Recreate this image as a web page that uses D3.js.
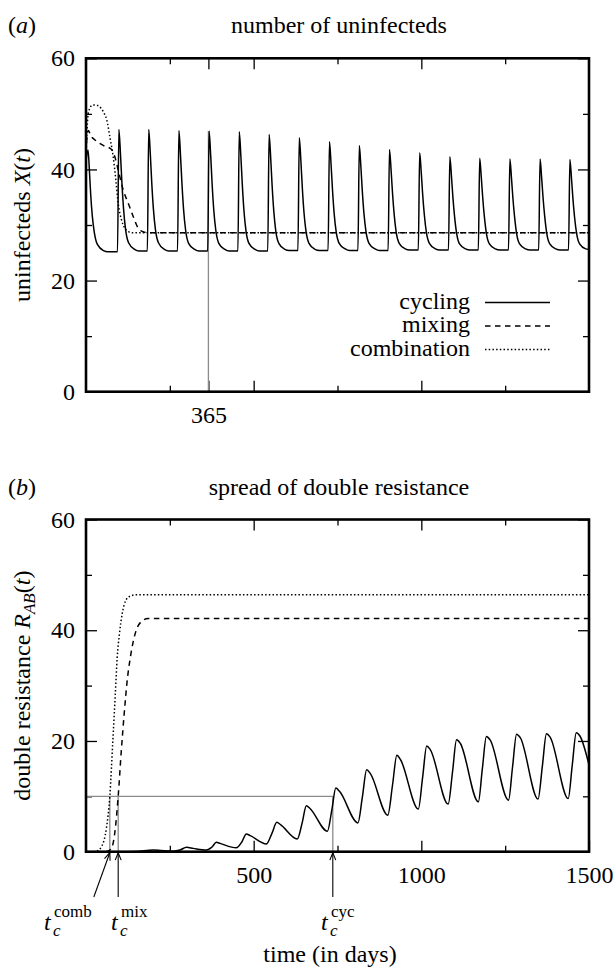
<!DOCTYPE html>
<html>
<head>
<meta charset="utf-8">
<script src="https://cdn.jsdelivr.net/npm/d3@7"></script>
<style>
  body { margin: 0; background: #fff; }
  svg { display: block; font-family: "Liberation Serif", "Times New Roman", serif; }
  .tick text { font-size: 24px; fill: #000; font-family: "Liberation Serif", serif; }
  .tick line { stroke: #000; stroke-width: 1.3; }
  .lbl { font-size: 24px; fill: #000; }
</style>
</head>
<body>
<svg id="chart" width="616" height="968"></svg>
<script>
// ---- panel (a): number of uninfecteds X(t), points are [day, value]
const cyclingX = [
  [0,41.5],[6,43.5],[10,40],[14,35.5],[19,31.5],[25,28.6],[34,26.5],[52,25.4],[65,25.2],
  [94,25.2],[98,47.2],[103,42.5],[107,37.7],[112,32.9],[118,29.2],[127,26.8],[145,25.6],[158,25.3],
  [183,25.3],[187,47.2],[192,42.5],[196,37.7],[201,32.9],[207,29.2],[216,26.8],[234,25.6],[247,25.3],
  [273,25.3],[277,47.0],[282,42.3],[286,37.6],[291,32.8],[297,29.1],[306,26.7],[324,25.6],[337,25.3],
  [363,25.3],[367,46.9],[372,42.3],[376,37.5],[381,32.7],[387,29.1],[396,26.7],[414,25.6],[427,25.3],
  [453,25.3],[457,46.8],[462,42.2],[466,37.4],[471,32.6],[477,29.0],[486,26.7],[504,25.6],[517,25.3],
  [542,25.3],[546,46.3],[551,41.8],[555,37.1],[560,32.5],[566,28.9],[575,26.7],[593,25.6],[606,25.4],
  [632,25.4],[636,45.7],[641,41.3],[645,36.8],[650,32.3],[656,28.9],[665,26.7],[683,25.6],[696,25.4],
  [722,25.4],[726,45.0],[731,40.7],[735,36.4],[740,32.1],[746,28.8],[755,26.7],[773,25.7],[786,25.4],
  [811,25.4],[815,44.3],[820,40.2],[824,36.1],[829,32.0],[835,28.8],[844,26.7],[862,25.7],[875,25.4],
  [901,25.4],[905,43.6],[910,39.7],[914,35.8],[919,31.9],[925,28.7],[934,26.7],[952,25.7],[965,25.5],
  [991,25.5],[995,43.0],[1000,39.2],[1004,35.5],[1009,31.8],[1015,28.7],[1024,26.7],[1042,25.7],[1055,25.5],
  [1081,25.5],[1085,42.3],[1090,38.6],[1094,35.1],[1099,31.6],[1105,28.6],[1114,26.6],[1132,25.7],[1145,25.5],
  [1170,25.5],[1174,42.0],[1179,38.4],[1183,35.0],[1188,31.5],[1194,28.5],[1203,26.6],[1221,25.7],[1234,25.5],
  [1260,25.5],[1264,41.9],[1269,38.3],[1273,34.9],[1278,31.5],[1284,28.5],[1293,26.6],[1311,25.7],[1324,25.5],
  [1350,25.5],[1354,41.9],[1359,38.3],[1363,34.9],[1368,31.5],[1374,28.5],[1383,26.6],[1401,25.7],[1414,25.5],
  [1439,25.5],[1443,41.8],[1448,38.2],[1452,34.8],[1457,31.4],[1463,28.5],[1472,26.6],[1490,25.7],[1500,25.6]
];
const mixingX = [
  [0,43],[3,46],[7,47],[15,46],[27,45.3],[52,44.3],[76,43.6],[86,42.3],[96,39.9],[111,36.3],
  [126,33.9],[141,31.5],[156,29.4],[170,28.8],[190,28.6],[1500,28.6]
];
const combinationX = [
  [0,42],[3,47],[8,50.5],[20,51.6],[35,51.5],[45,51.0],[55,50],[62,48.9],[71,45.9],[81,42.3],
  [89,38.1],[96,33.9],[106,30.9],[116,29.4],[126,28.8],[140,28.6],[1500,28.6]
];

// ---- panel (b): spread of double resistance R_AB(t)
const cyclingR = [
  [0,0],[100,0],[150,0.05],[200,0.3],[225,0.2],[260,0.1],[280,0.3],[300,0.8],[320,0.6],[360,0.3],
  [375,0.8],[389,1.7],[400,1.5],[448,0.7],[465,1.8],[478,3.2],[490,2.9],[538,1.4],[555,3.4],[569,5.3],
  [580,4.9],[630,2.3],[645,5.3],[657,8.3],[668,7.8],[720,3.7],[733,7.5],[745,11.5],[756,10.9],[811,5.2],
  [824,9.8],[837,14.8],[848,14.1],[900,6.6],[914,12],[927,17.4],[938,16.6],[991,7.7],[1004,13.5],[1016,19.1],
  [1027,18.4],[1080,8.6],[1093,14.4],[1105,20.2],[1116,19.6],[1170,9.0],[1182,15],[1194,20.8],[1205,20.2],
  [1260,9.3],[1272,15.3],[1284,21.2],[1295,20.6],[1348,9.5],[1361,15.5],[1373,21.3],[1384,20.7],[1438,9.6],
  [1450,15.6],[1462,21.5],[1473,20.9],[1500,15.7]
];
const mixingR = [
  [0,0],[60,0],[75,0.5],[85,3],[96,10],[105,18],[114,25],[123,31],[132,35],[141,38],[151,40.2],
  [166,41.6],[185,42.1],[1500,42.1]
];
const combinationR = [
  [0,0],[20,0],[32,0.1],[47,1],[61,4.3],[71,10],[80,20],[87,28],[93,35],[100,39.5],[108,43],
  [118,45.3],[130,46.1],[150,46.4],[1500,46.4]
];

// ticks and marks
const yMajorTicks = [0, 20, 40, 60];
const yMinorTicks = [10, 30, 50];
const xMinorTicks = [250, 750, 1250];
const xMajorTicksTop = [365, 500, 1000];
const xLabelsTop = [365];
const xMajorTicksBottom = [500, 1000];
const xLabelsBottom = [500, 1000, 1500];
const legendLabels = ["cycling", "mixing", "combination"];
const yearDay = 365;
const threshold = 10;
const tCritComb = 71, tCritMix = 96, tCritCyc = 736;

const svg = d3.select("#chart");
const left = 86, right = 589;
const x = d3.scaleLinear().domain([0, 1500]).range([left, right]);
const yTop = d3.scaleLinear().domain([0, 60]).range([391.7, 58.3]);
const yBot = d3.scaleLinear().domain([0, 60]).range([851.7, 519.5]);

const dash = { cycling: null, mixing: "5.5,4.5", combination: "1.5,2.2" };

function drawFrame(y, id, xMajor, xLabels) {
  const g = svg.append("g");
  const y0 = y.range()[0], y1 = y.range()[1];
  const fmtX = d => (xLabels.includes(d) ? d : "");
  // bottom / top x ticks
  g.append("g").attr("transform", `translate(0,${y0})`)
    .call(d3.axisBottom(x).tickValues(xMajor.concat(xLabels.filter(v => !xMajor.includes(v))))
      .tickSize(-11).tickPadding(14).tickFormat(fmtX));
  g.append("g").attr("transform", `translate(0,${y0})`)
    .call(d3.axisBottom(x).tickValues(xMinorTicks).tickSize(-6).tickFormat(""));
  g.append("g").attr("transform", `translate(0,${y1})`)
    .call(d3.axisTop(x).tickValues(xMajor).tickSize(-11).tickFormat(""));
  g.append("g").attr("transform", `translate(0,${y1})`)
    .call(d3.axisTop(x).tickValues(xMinorTicks).tickSize(-6).tickFormat(""));
  // y ticks
  g.append("g").attr("transform", `translate(${left},0)`)
    .call(d3.axisLeft(y).tickValues(yMajorTicks).tickSize(-11).tickPadding(11));
  g.append("g").attr("transform", `translate(${left},0)`)
    .call(d3.axisLeft(y).tickValues(yMinorTicks).tickSize(-6).tickFormat(""));
  g.append("g").attr("transform", `translate(${right},0)`)
    .call(d3.axisRight(y).tickValues(yMajorTicks).tickSize(-11).tickFormat(""));
  g.append("g").attr("transform", `translate(${right},0)`)
    .call(d3.axisRight(y).tickValues(yMinorTicks).tickSize(-6).tickFormat(""));
  g.selectAll(".domain").remove();
  // keep the edge ticks (0 / 1500) hidden under the frame
  g.selectAll(".tick line").filter(function() { return false; });

  svg.append("clipPath").attr("id", id).append("rect")
    .attr("x", left).attr("y", y1).attr("width", right - left).attr("height", y0 - y1);
  return g;
}

function drawLines(y, id, series) {
  const line = d3.line().x(d => x(d[0])).y(d => y(d[1])).curve(d3.curveMonotoneX);
  const g = svg.append("g").attr("clip-path", `url(#${id})`);
  series.forEach(s => {
    g.append("path").datum(s.data)
      .attr("d", line)
      .attr("fill", "none")
      .attr("stroke", "#000")
      .attr("stroke-width", 1.5)
      .attr("stroke-dasharray", dash[s.name]);
  });
}

function outline(y) {
  svg.append("rect")
    .attr("x", left).attr("y", y.range()[1])
    .attr("width", right - left).attr("height", y.range()[0] - y.range()[1])
    .attr("fill", "none").attr("stroke", "#000").attr("stroke-width", 2.6);
}

// ---------- panel (a)
const axA = drawFrame(yTop, "clipA", xMajorTicksTop, xLabelsTop);
svg.append("line")
  .attr("x1", x(yearDay)).attr("x2", x(yearDay))
  .attr("y1", yTop(0)).attr("y2", yTop(46.9))
  .attr("stroke", "#8a8a8a").attr("stroke-width", 1.3);
drawLines(yTop, "clipA", [
  { name: "mixing", data: mixingX },
  { name: "combination", data: combinationX },
  { name: "cycling", data: cyclingX }
]);
outline(yTop);

// legend
const leg = svg.append("g");
legendLabels.forEach((name, i) => {
  const ly = 302.5 + i * 23.5;
  leg.append("text").attr("class", "lbl").attr("x", 470).attr("y", ly + 6)
    .attr("text-anchor", "end").text(name);
  leg.append("line").attr("x1", 485).attr("x2", 550).attr("y1", ly).attr("y2", ly)
    .attr("stroke", "#000").attr("stroke-width", 1.5).attr("stroke-dasharray", dash[name]);
});

// titles
function panelTag(letter, yb) {
  const t = svg.append("text").attr("class", "lbl").attr("x", 8).attr("y", yb);
  t.append("tspan").text("(");
  t.append("tspan").attr("font-style", "italic").text(letter);
  t.append("tspan").text(")");
}
panelTag("a", 33);
svg.append("text").attr("class", "lbl").attr("x", 339).attr("y", 33)
  .attr("text-anchor", "middle").text("number of uninfecteds");

const yl1 = svg.append("text").attr("class", "lbl")
  .attr("transform", `translate(30,${(yTop.range()[0] + yTop.range()[1]) / 2}) rotate(-90)`)
  .attr("text-anchor", "middle");
yl1.append("tspan").text("uninfecteds ");
yl1.append("tspan").attr("font-style", "italic").text("X");
yl1.append("tspan").text("(");
yl1.append("tspan").attr("font-style", "italic").text("t");
yl1.append("tspan").text(")");

// ---------- panel (b)
drawFrame(yBot, "clipB", xMajorTicksBottom, xLabelsBottom);
const gray = svg.append("g").attr("stroke", "#8a8a8a").attr("stroke-width", 1.3);
gray.append("line").attr("x1", x(0)).attr("x2", x(tCritCyc))
  .attr("y1", yBot(threshold)).attr("y2", yBot(threshold));
[tCritComb, tCritMix, tCritCyc].forEach(t => {
  gray.append("line").attr("x1", x(t)).attr("x2", x(t))
    .attr("y1", yBot(0)).attr("y2", yBot(threshold));
});
drawLines(yBot, "clipB", [
  { name: "mixing", data: mixingR },
  { name: "combination", data: combinationR },
  { name: "cycling", data: cyclingR }
]);
outline(yBot);

panelTag("b", 495);
svg.append("text").attr("class", "lbl").attr("x", 339).attr("y", 495)
  .attr("text-anchor", "middle").text("spread of double resistance");

const yl2 = svg.append("text").attr("class", "lbl")
  .attr("transform", `translate(30,${(yBot.range()[0] + yBot.range()[1]) / 2}) rotate(-90)`)
  .attr("text-anchor", "middle");
yl2.append("tspan").text("double resistance ");
yl2.append("tspan").attr("font-style", "italic").text("R");
yl2.append("tspan").attr("font-style", "italic").attr("font-size", 17).attr("dy", 5).text("AB");
yl2.append("tspan").attr("dy", -5).text("(");
yl2.append("tspan").attr("font-style", "italic").text("t");
yl2.append("tspan").text(")");

svg.append("text").attr("class", "lbl").attr("x", 330).attr("y", 962)
  .attr("text-anchor", "middle").text("time (in days)");

// arrows to the crossing times
function arrow(x1, y1, x2, y2) {
  const a = Math.atan2(y2 - y1, x2 - x1), L = 8, w = 0.38;
  const p = svg.append("g").attr("stroke", "#000").attr("stroke-width", 1.1).attr("fill", "none");
  p.append("line").attr("x1", x1).attr("y1", y1).attr("x2", x2).attr("y2", y2);
  p.append("path").attr("d",
    `M${x2 - L * Math.cos(a - w)},${y2 - L * Math.sin(a - w)}L${x2},${y2}L${x2 - L * Math.cos(a + w)},${y2 - L * Math.sin(a + w)}`);
}
const axisY = yBot(0) + 1;
arrow(x(tCritComb) - 16, 897, x(tCritComb), axisY);
arrow(x(tCritMix), 897, x(tCritMix), axisY);
arrow(x(tCritCyc), 897, x(tCritCyc), axisY);

function critLabel(xt, sup) {
  const g = svg.append("g");
  g.append("text").attr("class", "lbl").attr("x", xt).attr("y", 930)
    .attr("font-style", "italic").text("t");
  g.append("text").attr("x", xt + 10).attr("y", 917).attr("font-size", 17).text(sup);
  g.append("text").attr("x", xt + 9).attr("y", 936).attr("font-size", 17)
    .attr("font-style", "italic").text("c");
}
critLabel(44, "comb");
critLabel(111, "mix");
critLabel(321, "cyc");
</script>
</body>
</html>
